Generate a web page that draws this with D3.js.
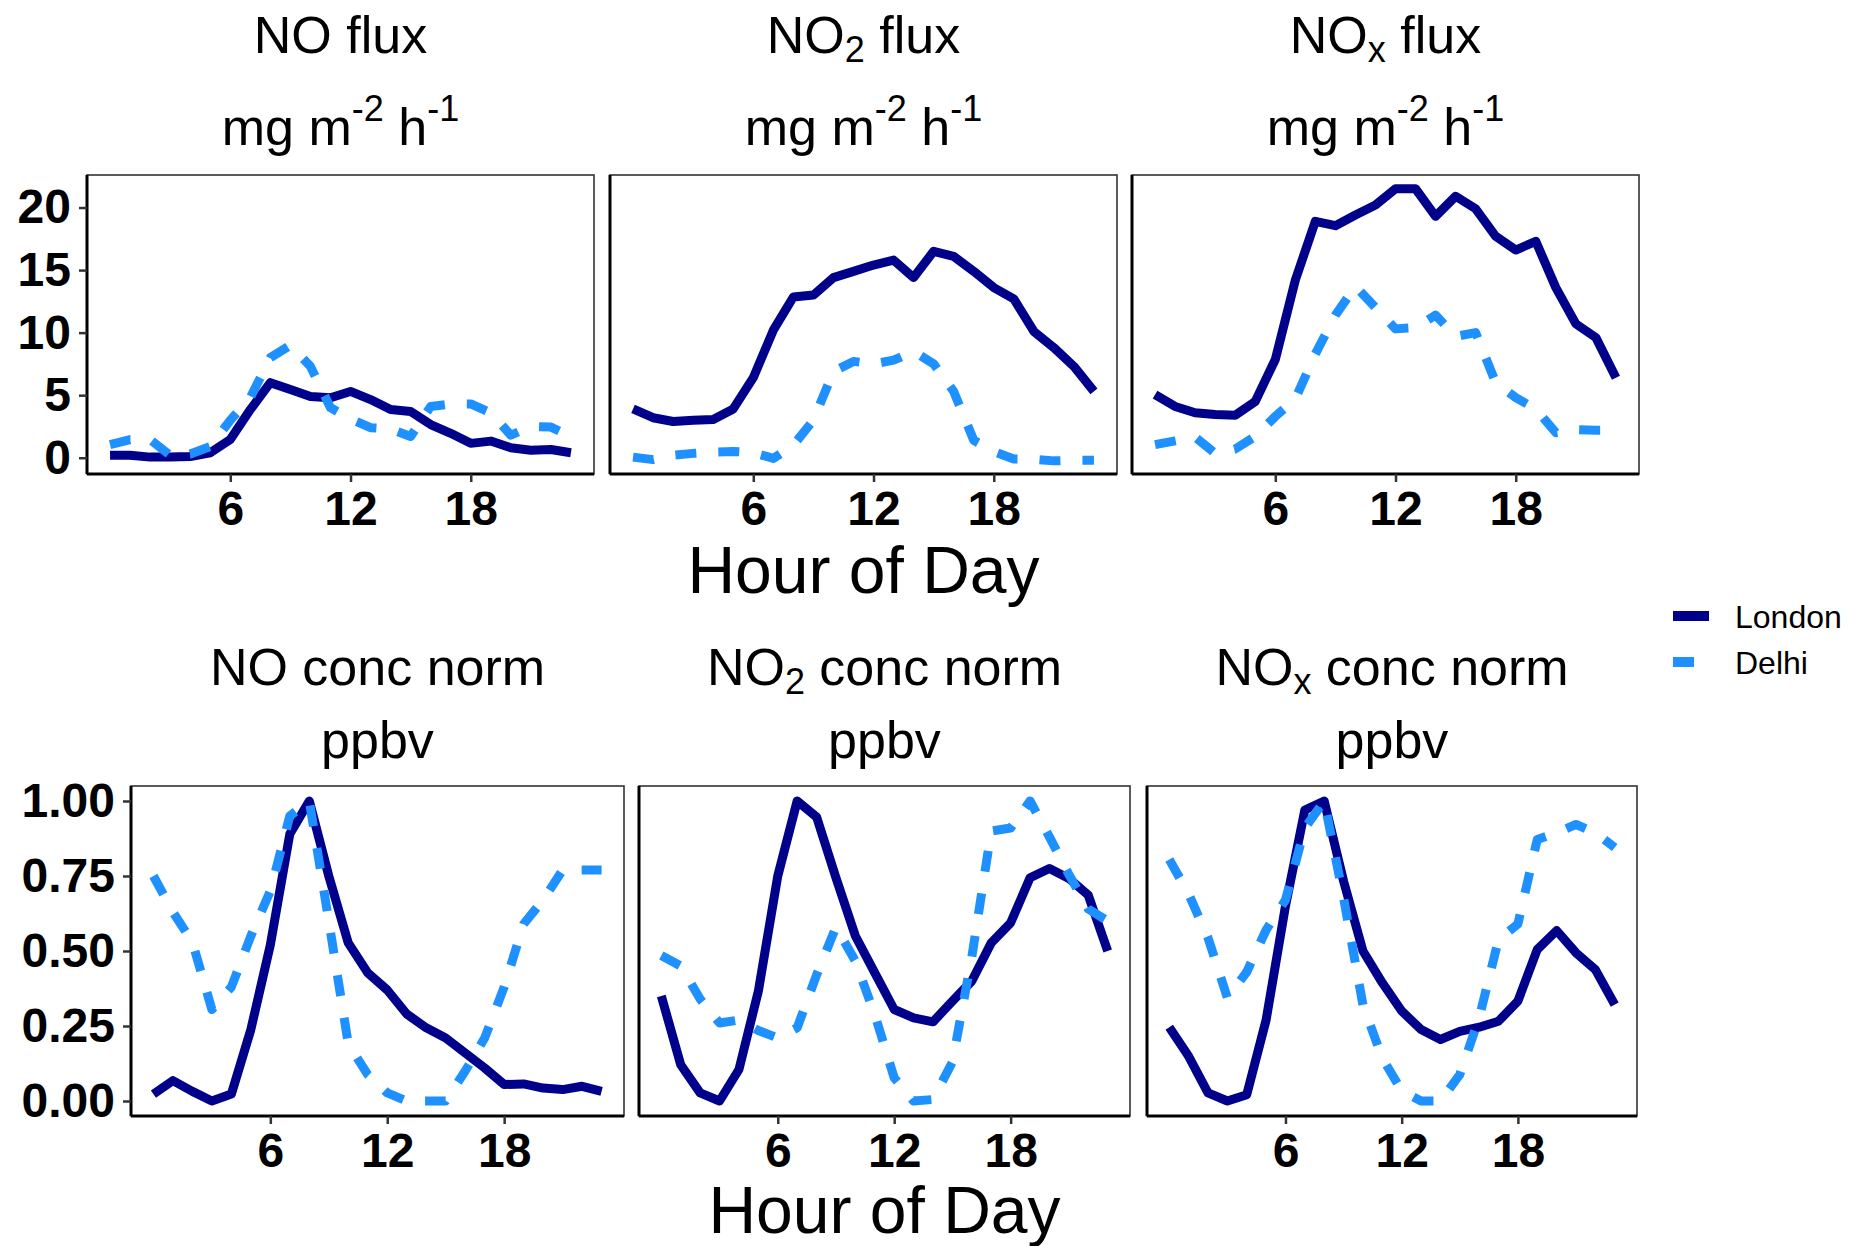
<!DOCTYPE html>
<html>
<head>
<meta charset="utf-8">
<script src="https://cdn.jsdelivr.net/npm/d3@7"></script>
<style>
  body { margin: 0; background: #ffffff; }
  svg { display: block; }
  text { font-family: "Liberation Sans", Arial, Helvetica, sans-serif; fill: #000; }
</style>
</head>
<body>
<svg id="chart" width="1857" height="1246"></svg>
<script>
// ---- data: diurnal cycles (hour of day 0-23) ----
const hours = [0,1,2,3,4,5,6,7,8,9,10,11,12,13,14,15,16,17,18,19,20,21,22,23];
const cities = ["London", "Delhi"];

// fluxes, mg m-2 h-1
const noFluxLondon  = [0.19,0.2,0.05,0.05,0.1,0.4,1.45,3.85,6.0,5.45,4.9,4.8,5.3,4.65,3.85,3.7,2.65,1.95,1.15,1.33,0.8,0.6,0.66,0.4];
const noFluxDelhi   = [1.05,1.45,1.45,0.2,0.3,0.9,3.0,4.8,8.0,9.0,7.3,4.0,3.1,2.4,2.3,1.7,4.1,4.3,4.3,3.6,1.8,2.5,2.45,1.7];
const no2FluxLondon = [3.9,3.2,2.9,3.0,3.05,3.9,6.4,10.2,12.85,13.0,14.4,14.9,15.4,15.8,14.4,16.5,16.1,14.9,13.6,12.7,10.1,8.8,7.3,5.3];
const no2FluxDelhi  = [0.05,-0.15,0.2,0.35,0.45,0.5,0.4,-0.05,1.0,3.0,6.9,7.7,7.5,7.8,8.5,7.5,5.3,1.4,0.5,-0.1,-0.12,-0.25,-0.2,-0.2];
const noxFluxLondon = [5.05,4.1,3.6,3.45,3.4,4.5,7.85,14.2,18.9,18.55,19.4,20.2,21.5,21.5,19.3,20.9,19.9,17.7,16.6,17.3,13.6,10.7,9.6,6.4];
const noxFluxDelhi  = [1.05,1.35,1.65,0.35,0.7,1.7,3.3,4.7,8.3,11.4,13.7,12.0,10.3,10.4,11.4,9.7,10.0,6.0,4.8,3.9,2.0,2.25,2.2,2.2];

// normalised concentrations
const noConcLondon  = [0.023,0.068,0.032,0.0,0.023,0.238,0.52,0.89,1.0,0.75,0.527,0.427,0.37,0.29,0.244,0.21,0.16,0.11,0.055,0.057,0.043,0.038,0.049,0.032];
const noConcDelhi   = [0.75,0.63,0.53,0.305,0.38,0.55,0.70,0.95,1.0,0.6,0.19,0.088,0.027,0.0,0.0,0.0,0.1,0.21,0.38,0.59,0.67,0.77,0.77,0.77];
const no2ConcLondon = [0.35,0.121,0.027,0.0,0.105,0.366,0.75,1.0,0.947,0.744,0.55,0.427,0.305,0.277,0.264,0.333,0.40,0.527,0.594,0.744,0.775,0.742,0.686,0.50];
const no2ConcDelhi  = [0.485,0.45,0.34,0.26,0.27,0.235,0.21,0.244,0.42,0.58,0.466,0.288,0.077,0.0,0.005,0.13,0.48,0.9,0.91,1.0,0.88,0.755,0.64,0.6];
const noxConcLondon = [0.246,0.149,0.027,0.0,0.021,0.27,0.65,0.97,1.0,0.733,0.5,0.394,0.3,0.238,0.205,0.232,0.246,0.266,0.333,0.505,0.568,0.494,0.438,0.321];
const noxConcDelhi  = [0.805,0.69,0.544,0.344,0.43,0.57,0.67,0.91,1.0,0.677,0.32,0.143,0.034,0.0,0.0,0.088,0.277,0.538,0.59,0.872,0.894,0.922,0.894,0.845];

// species names with subscripts
const speciesBase = ["NO", "NO", "NO"];
const speciesSub  = ["", "2", "x"];

// axes
const xTicks = [6, 12, 18];
const xTickLabels = ["6", "12", "18"];
const fluxTicks = [0, 5, 10, 15, 20];
const fluxTickLabels = ["0", "5", "10", "15", "20"];
const concTicks = [0, 0.25, 0.5, 0.75, 1];
const concTickLabels = ["0.00", "0.25", "0.50", "0.75", "1.00"];
const xLabel = "Hour of Day";

// ---- styling / layout ----
const colors = { London: "#00008B", Delhi: "#1E90FF" };
const dashes = { London: null, Delhi: "21,22" };
const lineWidth = 9;
const FONT = '"Liberation Sans", Arial, Helvetica, sans-serif';

const topBoxes = [
  { x0: 87,   x1: 594,  y0: 175, y1: 474 },
  { x0: 610,  x1: 1117, y0: 175, y1: 474 },
  { x0: 1132, x1: 1639, y0: 175, y1: 474 }
];
const bottomBoxes = [
  { x0: 131,  x1: 624,  y0: 786, y1: 1116 },
  { x0: 639,  x1: 1130, y0: 786, y1: 1116 },
  { x0: 1147, x1: 1637, y0: 786, y1: 1116 }
];
const xDomain = [-1.15, 24.15];
const fluxDomain = [-1.3, 22.6];
const concDomain = [-0.05, 1.05];

const svg = d3.select("#chart");
svg.append("rect").attr("width", 1857).attr("height", 1246).attr("fill", "#fff");

function drawPanel(box, yDomain, yTicks, yLabels, showY, london, delhi) {
  const x = d3.scaleLinear().domain(xDomain).range([box.x0, box.x1]);
  const y = d3.scaleLinear().domain(yDomain).range([box.y1, box.y0]);
  const g = svg.append("g");

  const line = d3.line()
    .x((d, i) => x(hours[i]))
    .y(d => y(d));

  const series = { London: london, Delhi: delhi };
  cities.forEach(c => {
    g.append("path")
      .datum(series[c])
      .attr("d", line)
      .attr("fill", "none")
      .attr("stroke", colors[c])
      .attr("stroke-width", lineWidth)
      .attr("stroke-linejoin", "round")
      .attr("stroke-linecap", "butt")
      .attr("stroke-dasharray", dashes[c]);
  });

  // panel border
  g.append("rect")
    .attr("x", box.x0).attr("y", box.y0)
    .attr("width", box.x1 - box.x0).attr("height", box.y1 - box.y0)
    .attr("fill", "none").attr("stroke", "#333").attr("stroke-width", 1.6);

  // x axis
  const xa = g.append("g")
    .attr("class", "x-axis")
    .attr("transform", `translate(0,${box.y1})`)
    .call(d3.axisBottom(x).tickValues(xTicks).tickSize(8).tickPadding(9)
      .tickFormat((d, i) => xTickLabels[i]));
  xa.select(".domain").attr("d", `M${box.x0},0H${box.x1}`)
    .attr("stroke", "#000").attr("stroke-width", 3);
  xa.selectAll(".tick line").attr("stroke", "#333").attr("stroke-width", 2.5);
  xa.selectAll(".tick text")
    .attr("font-family", FONT).attr("font-size", 48).attr("font-weight", "bold").attr("fill", "#000");

  // y axis (only labelled on the first panel of a row)
  if (showY) {
    const ya = g.append("g")
      .attr("class", "y-axis")
      .attr("transform", `translate(${box.x0},0)`)
      .call(d3.axisLeft(y).tickValues(yTicks).tickSize(8).tickPadding(8)
        .tickFormat((d, i) => yLabels[i]));
    ya.select(".domain").attr("d", `M0,${box.y0}V${box.y1}`)
      .attr("stroke", "#000").attr("stroke-width", 3);
    ya.selectAll(".tick line").attr("stroke", "#333").attr("stroke-width", 2.5);
    ya.selectAll(".tick text")
      .attr("font-family", FONT).attr("font-size", 48).attr("font-weight", "bold").attr("fill", "#000");
  } else {
    g.append("line")
      .attr("x1", box.x0).attr("x2", box.x0).attr("y1", box.y0).attr("y2", box.y1)
      .attr("stroke", "#000").attr("stroke-width", 3);
  }
}

function speciesTitle(cx, baseline, i, rest) {
  const t = svg.append("text")
    .attr("x", cx).attr("y", baseline)
    .attr("text-anchor", "middle")
    .attr("font-size", 52);
  t.append("tspan").text(speciesBase[i]);
  if (speciesSub[i]) {
    t.append("tspan").attr("font-size", 36).attr("dy", 9).text(speciesSub[i]);
    t.append("tspan").attr("dy", -9).text(" " + rest);
  } else {
    t.append("tspan").text(" " + rest);
  }
}

function unitsFlux(cx, baseline) {
  const t = svg.append("text")
    .attr("x", cx).attr("y", baseline)
    .attr("text-anchor", "middle")
    .attr("font-size", 52);
  t.append("tspan").text("mg m");
  t.append("tspan").attr("font-size", 36).attr("dy", -24).text("-2");
  t.append("tspan").attr("dy", 24).text(" h");
  t.append("tspan").attr("font-size", 36).attr("dy", -24).text("-1");
}

const fluxSeries = [[noFluxLondon, noFluxDelhi], [no2FluxLondon, no2FluxDelhi], [noxFluxLondon, noxFluxDelhi]];
const concSeries = [[noConcLondon, noConcDelhi], [no2ConcLondon, no2ConcDelhi], [noxConcLondon, noxConcDelhi]];

topBoxes.forEach((b, i) => {
  drawPanel(b, fluxDomain, fluxTicks, fluxTickLabels, i === 0, fluxSeries[i][0], fluxSeries[i][1]);
  const cx = (b.x0 + b.x1) / 2;
  speciesTitle(cx, 53, i, "flux");
  unitsFlux(cx, 145);
});

bottomBoxes.forEach((b, i) => {
  drawPanel(b, concDomain, concTicks, concTickLabels, i === 0, concSeries[i][0], concSeries[i][1]);
  const cx = (b.x0 + b.x1) / 2;
  speciesTitle(cx, 685, i, "conc norm");
  svg.append("text").attr("x", cx).attr("y", 758)
    .attr("text-anchor", "middle").attr("font-size", 52).text("ppbv");
});

// shared x-axis titles, centred under the middle panel of each row
svg.append("text").attr("x", (topBoxes[1].x0 + topBoxes[1].x1) / 2).attr("y", 593)
  .attr("text-anchor", "middle").attr("font-size", 66).text(xLabel);
svg.append("text").attr("x", (bottomBoxes[1].x0 + bottomBoxes[1].x1) / 2).attr("y", 1233)
  .attr("text-anchor", "middle").attr("font-size", 66).text(xLabel);

// legend
const legend = svg.append("g").attr("transform", "translate(1673,616)");
cities.forEach((c, i) => {
  const row = legend.append("g").attr("transform", `translate(0,${i * 46})`);
  row.append("line")
    .attr("x1", 0).attr("x2", 36).attr("y1", 0).attr("y2", 0)
    .attr("stroke", colors[c]).attr("stroke-width", 10)
    .attr("stroke-dasharray", dashes[c]);
  row.append("text").attr("x", 62).attr("y", 12)
    .attr("font-size", 32).text(c);
});
</script>
</body>
</html>
